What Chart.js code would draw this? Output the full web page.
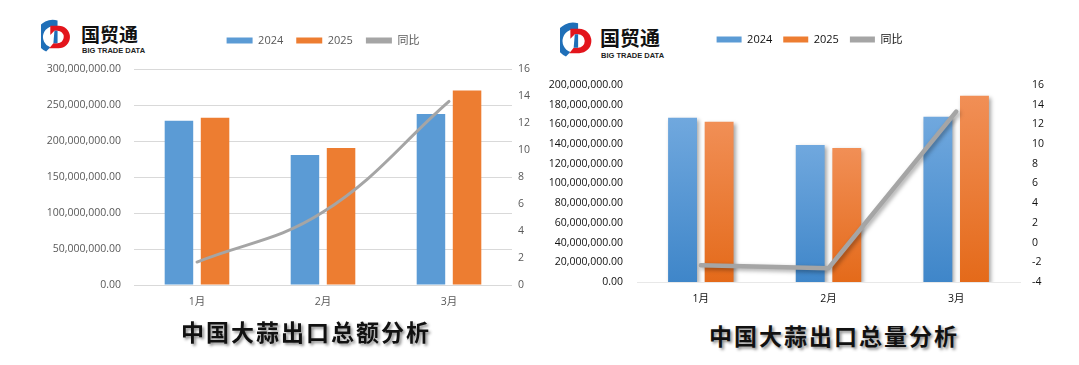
<!DOCTYPE html>
<html>
<head>
<meta charset="utf-8">
<script src="https://cdn.jsdelivr.net/npm/chart.js@4.4.1/dist/chart.umd.min.js"></script>
<style>
  body { margin: 0; background: #fff; width: 1079px; height: 365px; position: relative; overflow: hidden; font-family: "Noto Sans CJK SC", sans-serif; }
  #box1 { position: absolute; left: 0; top: 0; }
  #box2 { position: absolute; left: 540px; top: 0; }
  .title { position: absolute; font-weight: bold; font-size: 23px; line-height: 24px; letter-spacing: 2px; color: #111;
           text-shadow: 2px 2px 3px rgba(0,0,0,.45); white-space: nowrap; transform: translateX(-50%); }
  .logo { position: absolute; }
  .logo .cn { position: absolute; font-weight: bold; color: #111; white-space: nowrap; }
  .logo .en { position: absolute; font-family: "Liberation Sans", sans-serif; font-weight: bold; color: #222; white-space: nowrap; }
</style>
</head>
<body>

<div class="logo" style="left:41px;top:17px;">
  <svg width="31" height="40" viewBox="0 0 30 38" style="position:absolute;left:0;top:0">
    <path d="M16 3 A16 16 0 0 0 5 33 L9 29 A10.5 10.5 0 0 1 16 9 Z" fill="#1f6fb8"/>
    <path d="M9 8 H17 A11 11 0 0 1 17 30 H8 L12 25 H16 A6 6 0 0 0 16 13 H13 L9 17 Z" fill="#e3151c"/>
    <path d="M13 13 H16 V25 H12 Z" fill="#1f6fb8"/>
  </svg>
  <div class="cn" style="left:40px;top:6px;font-size:19px;line-height:22px;">国贸通</div>
  <div class="en" style="left:41px;top:29px;font-size:7.5px;line-height:9px;">BIG TRADE DATA</div>
</div>

<div class="logo" style="left:560px;top:20px;">
  <svg width="34" height="42" viewBox="0 0 30 38" style="position:absolute;left:0;top:0">
    <path d="M16 3 A16 16 0 0 0 5 33 L9 29 A10.5 10.5 0 0 1 16 9 Z" fill="#1f6fb8"/>
    <path d="M9 8 H17 A11 11 0 0 1 17 30 H8 L12 25 H16 A6 6 0 0 0 16 13 H13 L9 17 Z" fill="#e3151c"/>
    <path d="M13 13 H16 V25 H12 Z" fill="#1f6fb8"/>
  </svg>
  <div class="cn" style="left:40px;top:6px;font-size:20px;line-height:23px;">国贸通</div>
  <div class="en" style="left:41px;top:31px;font-size:7.5px;line-height:9px;">BIG TRADE DATA</div>
</div>

<canvas id="box1" width="540" height="315"></canvas>
<canvas id="box2" width="539" height="312"></canvas>

<div class="title" style="left:306px;top:319px;">中国大蒜出口总额分析</div>
<div class="title" style="left:834px;top:323px;">中国大蒜出口总量分析</div>

<script>
// 数据
var months = ['1月', '2月', '3月'];
var seriesNames = ['2024', '2025', '同比'];

// 出口总额
var amount2024 = [228000000, 180600000, 237500000];
var amount2025 = [232400000, 190300000, 270000000];
var amountYoY = [1.7, 5.4, 13.6];
var amountTicks = [0, 300000000, 50000000];
var amountYoYTicks = [0, 16, 2];

// 出口总量
var volume2024 = [166800000, 139000000, 167800000];
var volume2025 = [162700000, 136000000, 189100000];
var volumeYoY = [-2.3, -2.6, 13.3];
var volumeTicks = [0, 200000000, 20000000];
var volumeYoYTicks = [-4, 16, 2];

var legendColors = ['#5b9bd5', '#ed7d31', '#a5a5a5'];
var tickFamily = '"Open Sans", "Noto Sans CJK SC", sans-serif';

var money = function (v) {
    return Number(v).toLocaleString('en-US', { minimumFractionDigits: 2, maximumFractionDigits: 2 });
};

// extra room between legend and plot
var legendGap = {
    id: 'legendGap',
    beforeLayout: function (chart, args, opts) {
        var lg = chart.legend;
        if (lg && !lg._gapPatched) {
            var fit = lg.fit;
            lg.fit = function () {
                fit.call(this);
                this.height += opts.gap || 0;
            };
            lg._gapPatched = true;
        }
    }
};

var softShadow = {
    id: 'softShadow',
    beforeDatasetDraw: function (chart, args, opts) {
        if (!opts.on) return;
        var ctx = chart.ctx;
        ctx.save();
        ctx.shadowColor = 'rgba(0,0,0,0.35)';
        ctx.shadowBlur = 4;
        ctx.shadowOffsetX = 2;
        ctx.shadowOffsetY = 2;
    },
    afterDatasetDraw: function (chart, args, opts) {
        if (!opts.on) return;
        chart.ctx.restore();
    }
};

// per bar vertical gradient
var barGradient = function (topColor, bottomColor) {
    return function (c) {
        var area = c.chart.chartArea;
        if (!area || !c.parsed) return bottomColor;
        var y = c.chart.scales.y;
        var g = c.chart.ctx.createLinearGradient(0, y.getPixelForValue(c.parsed.y), 0, y.getPixelForValue(0));
        g.addColorStop(0, topColor);
        g.addColorStop(1, bottomColor);
        return g;
    };
};

var legendLabels = function (chart) {
    var items = Chart.defaults.plugins.legend.labels.generateLabels(chart);
    items.forEach(function (it) {
        it.fillStyle = legendColors[it.datasetIndex];
        it.strokeStyle = legendColors[it.datasetIndex];
        it.lineWidth = 0;
    });
    return items;
};
var byIndex = function (a, b) { return a.datasetIndex - b.datasetIndex; };

// 左图：出口总额
new Chart('box1', {
    type: 'bar',
    data: {
        labels: months,
        datasets: [{
            label: seriesNames[0],
            data: amount2024,
            backgroundColor: '#5b9bd5',
            yAxisID: 'y',
            order: 1,
            barPercentage: 0.79,
            categoryPercentage: 0.573
        }, {
            label: seriesNames[1],
            data: amount2025,
            backgroundColor: '#ed7d31',
            yAxisID: 'y',
            order: 1,
            barPercentage: 0.79,
            categoryPercentage: 0.573
        }, {
            type: 'line',
            label: seriesNames[2],
            data: amountYoY,
            borderColor: '#a5a5a5',
            backgroundColor: '#a5a5a5',
            borderWidth: 3,
            pointRadius: 0,
            tension: 0.4,
            borderCapStyle: 'round',
            yAxisID: 'y1',
            order: 0
        }]
    },
    options: {
        responsive: false,
        animation: false,
        layout: { padding: { top: 22, left: 0, right: 0, bottom: 0 } },
        plugins: {
            tooltip: { enabled: false },
            legendGap: { gap: 13 },
            softShadow: { on: false },
            legend: {
                position: 'top',
                fullSize: false,
                labels: {
                    boxWidth: 26,
                    boxHeight: 6,
                    padding: 13,
                    color: '#595959',
                    font: { family: tickFamily, size: 11 },
                    generateLabels: legendLabels,
                    sort: byIndex
                }
            }
        },
        scales: {
            x: {
                grid: { display: false, drawTicks: false },
                border: { display: false },
                ticks: { color: '#595959', font: { family: tickFamily, size: 10.5 }, padding: 11 },
                afterFit: function (s) { s.height = 30; }
            },
            y: {
                position: 'left',
                min: amountTicks[0],
                max: amountTicks[1],
                ticks: { stepSize: amountTicks[2], color: '#595959', font: { family: tickFamily, size: 10.5 }, padding: 13, callback: money },
                grid: { color: '#d9d9d9', drawTicks: false },
                border: { display: false },
                afterFit: function (s) { s.width = 134; }
            },
            y1: {
                position: 'right',
                min: amountYoYTicks[0],
                max: amountYoYTicks[1],
                ticks: { stepSize: amountYoYTicks[2], color: '#595959', font: { family: tickFamily, size: 10.5 }, padding: 6 },
                grid: { display: false, drawTicks: false },
                border: { display: false },
                afterFit: function (s) { s.width = 28; }
            }
        }
    },
    plugins: [legendGap, softShadow]
});

// 右图：出口总量
new Chart('box2', {
    type: 'bar',
    data: {
        labels: months,
        datasets: [{
            label: seriesNames[0],
            data: volume2024,
            backgroundColor: barGradient('#70a8de', '#3f86c9'),
            yAxisID: 'y',
            order: 1,
            barPercentage: 0.79,
            categoryPercentage: 0.573
        }, {
            label: seriesNames[1],
            data: volume2025,
            backgroundColor: barGradient('#f18f56', '#e46a1a'),
            yAxisID: 'y',
            order: 1,
            barPercentage: 0.79,
            categoryPercentage: 0.573
        }, {
            type: 'line',
            label: seriesNames[2],
            data: volumeYoY,
            borderColor: '#a5a5a5',
            backgroundColor: '#a5a5a5',
            borderWidth: 4.5,
            pointRadius: 0,
            tension: 0,
            borderJoinStyle: 'round',
            borderCapStyle: 'round',
            yAxisID: 'y1',
            order: 0
        }]
    },
    options: {
        responsive: false,
        animation: false,
        layout: { padding: { top: 23, left: 0, right: 0, bottom: 0 } },
        plugins: {
            tooltip: { enabled: false },
            legendGap: { gap: 30 },
            softShadow: { on: true },
            legend: {
                position: 'top',
                labels: {
                    boxWidth: 25,
                    boxHeight: 6,
                    padding: 11,
                    color: '#111',
                    font: { family: tickFamily, size: 11 },
                    generateLabels: legendLabels,
                    sort: byIndex
                }
            }
        },
        scales: {
            x: {
                grid: { display: false, drawTicks: false },
                border: { display: true, color: '#e8e8e8' },
                ticks: { color: '#111', font: { family: tickFamily, size: 10.5 }, padding: 11 },
                afterFit: function (s) { s.height = 30; }
            },
            y: {
                position: 'left',
                min: volumeTicks[0],
                max: volumeTicks[1],
                ticks: { stepSize: volumeTicks[2], color: '#111', font: { family: tickFamily, size: 10.5 }, padding: 14, callback: money },
                grid: { display: false, drawTicks: false },
                border: { display: false },
                afterFit: function (s) { s.width = 97; }
            },
            y1: {
                position: 'right',
                min: volumeYoYTicks[0],
                max: volumeYoYTicks[1],
                ticks: { stepSize: volumeYoYTicks[2], color: '#111', font: { family: tickFamily, size: 10.5 }, padding: 12 },
                grid: { display: false, drawTicks: false },
                border: { display: false },
                afterFit: function (s) { s.width = 59; }
            }
        }
    },
    plugins: [legendGap, softShadow]
});
</script>
</body>
</html>
